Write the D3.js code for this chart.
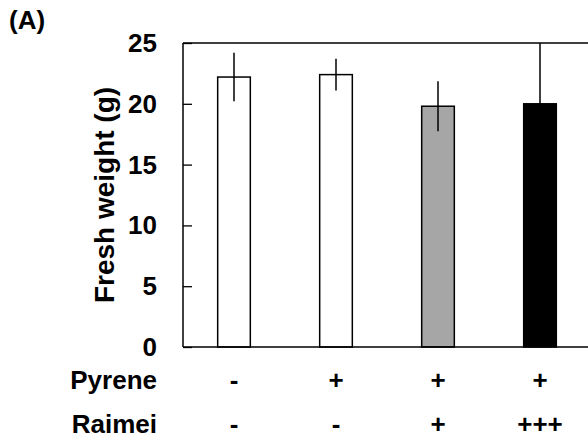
<!DOCTYPE html>
<html lang="en">
<head>
<meta charset="UTF-8">
<script src="https://d3js.org/d3.v7.min.js"></script>
<title>Fresh weight</title>
<style>
  body { margin: 0; background: #fff; }
  text { font-family: Arial, "Liberation Sans", sans-serif; font-weight: bold; fill: #000; }
</style>
</head>
<body>
<svg id="chart" width="588" height="440"></svg>
<script>
// chart values
var groups = ["g1", "g2", "g3", "g4"];
var weights = [22.2, 22.4, 19.8, 20.0];
var errors = [2.0, 1.3, 2.05, 5.5];
var fills = ["#ffffff", "#ffffff", "#a6a6a6", "#000000"];
var pyrene = ["-", "+", "+", "+"];
var raimei = ["-", "-", "+", "+++"];
var yTicks = [0, 5, 10, 15, 20, 25];

var svg = d3.select("#chart");
var margin = {left: 183, top: 43, bottom: 347, right: 591};

var x = d3.scaleBand().domain(groups).range([margin.left, margin.right]).paddingInner(0.68).paddingOuter(0.34);
var y = d3.scaleLinear().domain([0, 25]).range([margin.bottom, margin.top]);

svg.append("defs").append("clipPath").attr("id", "plot")
  .append("rect").attr("x", margin.left).attr("y", margin.top)
  .attr("width", margin.right - margin.left).attr("height", margin.bottom - margin.top);

// bars
svg.selectAll(".bar").data(weights).enter().append("rect")
  .attr("class", "bar")
  .attr("x", (d, i) => x(groups[i]))
  .attr("y", d => y(d))
  .attr("width", x.bandwidth())
  .attr("height", d => y(0) - y(d))
  .attr("fill", (d, i) => fills[i])
  .attr("stroke", "#000")
  .attr("stroke-width", 1.5);

// error bars (clipped at the axis maximum)
svg.append("g").attr("clip-path", "url(#plot)")
  .selectAll("line").data(weights).enter().append("line")
  .attr("x1", (d, i) => x(groups[i]) + x.bandwidth() / 2)
  .attr("x2", (d, i) => x(groups[i]) + x.bandwidth() / 2)
  .attr("y1", (d, i) => y(d + errors[i]))
  .attr("y2", (d, i) => y(d - errors[i]))
  .attr("stroke", "#000")
  .attr("stroke-width", 1.5);

// y axis with inward ticks
var yAxis = svg.append("g")
  .attr("transform", `translate(${margin.left},0)`)
  .call(d3.axisRight(y).tickValues(yTicks).tickSize(9).tickFormat(""));
yAxis.select(".domain").remove();
yAxis.selectAll("line").attr("stroke", "#000").attr("stroke-width", 1.3);

svg.append("line").attr("x1", margin.left).attr("x2", margin.left)
  .attr("y1", margin.top).attr("y2", margin.bottom)
  .attr("stroke", "#000").attr("stroke-width", 1.5);
svg.append("line").attr("x1", margin.left).attr("x2", margin.right)
  .attr("y1", margin.top).attr("y2", margin.top)
  .attr("stroke", "#000").attr("stroke-width", 1.3);
svg.append("line").attr("x1", margin.left).attr("x2", margin.right)
  .attr("y1", margin.bottom).attr("y2", margin.bottom)
  .attr("stroke", "#000").attr("stroke-width", 1.5);

svg.selectAll(".ylab").data(yTicks).enter().append("text")
  .attr("class", "ylab")
  .attr("x", 157)
  .attr("y", d => y(d) + 9)
  .attr("text-anchor", "end")
  .attr("font-size", 26)
  .text(d => d);

svg.append("text")
  .attr("transform", "translate(114,195) rotate(-90)")
  .attr("text-anchor", "middle")
  .attr("font-size", 28)
  .text("Fresh weight (g)");

svg.append("text").attr("x", 9).attr("y", 29).attr("font-size", 26).text("(A)");

// treatment rows
var rows = [{name: "Pyrene", vals: pyrene, base: 389}, {name: "Raimei", vals: raimei, base: 433}];
rows.forEach(r => {
  svg.append("text").attr("x", 157).attr("y", r.base).attr("text-anchor", "end")
    .attr("font-size", 26).text(r.name);
  svg.selectAll(null).data(r.vals).enter().append("text")
    .attr("x", (d, i) => x(groups[i]) + x.bandwidth() / 2)
    .attr("y", r.base)
    .attr("text-anchor", "middle")
    .attr("font-size", 26)
    .text(d => d);
});
</script>
</body>
</html>
